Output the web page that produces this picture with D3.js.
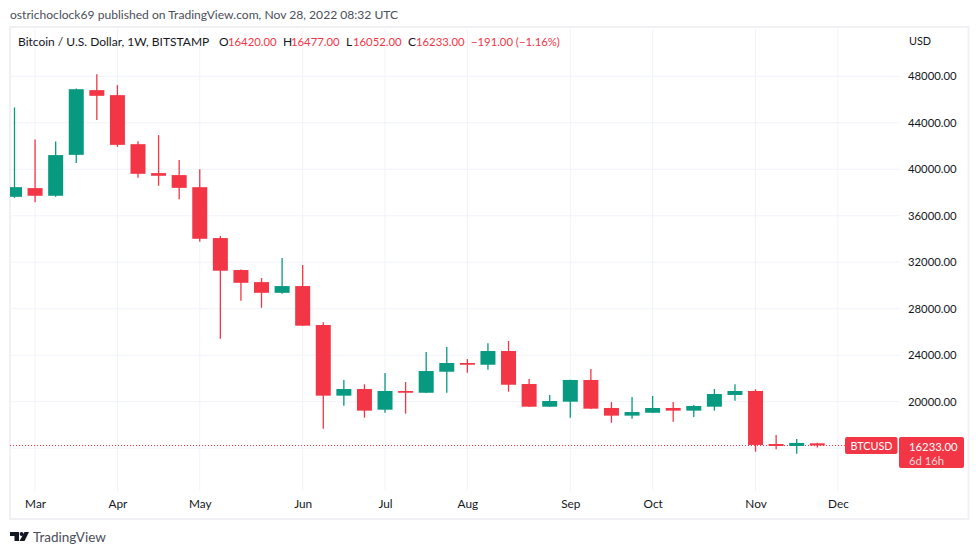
<!DOCTYPE html>
<html>
<head>
<meta charset="utf-8">
<script src="https://cdn.jsdelivr.net/npm/d3@7"></script>
<style>
  html, body { margin: 0; padding: 0; background: #fff; }
  svg { display: block; }
  text { font-family: Lato, sans-serif; fill: #131722; }
</style>
</head>
<body>
<script>
// weekly candles, values
const firstWeek = "2022-02-28"
const opens = [37630,38380,37720,41240,46810,46380,42160,39670,39500,38460,34080,31330,30290,29370,29950,26600,20520,21090,19310,20920,20770,22580,23330,23180,24360,21520,19570,20000,21870,19460,18800,19050,19460,19230,19570,20580,20920,16360,16190,16420]
const highs = [45320,42570,42390,46950,48180,47240,42420,42940,40790,40010,34250,31370,30640,32360,31760,26830,21870,21500,22470,21690,24270,24700,23670,25020,25220,21950,20580,21890,22810,19970,20400,20490,19970,19720,21090,21500,21070,17140,16790,16477]
const lows = [37540,37170,37630,40550,44230,41930,39260,38580,37430,33760,25420,28690,28080,29290,26520,17680,19660,18620,19050,18970,20750,20770,22490,22750,20860,19540,19540,18620,19370,18190,18540,19030,18280,18680,19230,20090,15700,15910,15530,16052]
const closes = [38460,37720,41220,46890,46320,42100,39610,39440,38400,34020,31270,30230,29370,29950,26540,20520,21090,19230,20920,20770,22640,23330,23180,24360,21460,19570,20060,21870,19400,18800,19110,19460,19230,19630,20660,20920,16280,16190,16450,16233]

const priceTicks = [20000,24000,28000,32000,36000,40000,44000,48000]
const gridPrices = [16000,20000,24000,28000,32000,36000,40000,44000,48000]
const monthTicks = ["2022-03-07","2022-04-04","2022-05-02","2022-06-06","2022-07-04","2022-08-01","2022-09-05","2022-10-03","2022-11-07","2022-12-05"]
const lastPrice = 16233

const w = 979
const h = 555
const up = "#089981"
const down = "#f23645"
const grid = "#f0f3fa"
const numSize = "11.3px"
const wordSize = "12px"

const parse = d3.utcParse("%Y-%m-%d")
const weeks = opens.map((d, i) => d3.utcDay.offset(parse(firstWeek), i * 7))

const plotL = 10, plotR = 900, plotT = 29, plotB = 491

const xScale = d3.scaleUtc()
                 .domain([weeks[0], weeks[weeks.length - 1]])
                 .range([14.5, 817.3])
// 48000 sits at y 76.3, 20000 at y 401.7
const yScale = d3.scaleLinear()
                 .domain([20000, 48000])
                 .range([401.7, 76.3])

const svg = d3.select("body").append("svg")
              .attr("width", w)
              .attr("height", h)

svg.append("text")
   .attr("x", 10).attr("y", 19)
   .style("font-size", "12.1px")
   .style("fill", "#4a4e59")
   .text("ostrichoclock69 published on TradingView.com, Nov 28, 2022 08:32 UTC")

// frame
svg.append("rect")
   .attr("x", 10).attr("y", 27)
   .attr("width", 958.5).attr("height", 492)
   .attr("fill", "#fff")
   .attr("stroke", "#eff1f4")
   .attr("stroke-width", 2)

svg.append("defs").append("clipPath").attr("id", "plot")
   .append("rect")
   .attr("x", plotL).attr("y", plotT)
   .attr("width", plotR - plotL).attr("height", plotB - plotT)

const plot = svg.append("g").attr("clip-path", "url(#plot)")

plot.selectAll(".hgrid")
    .data(gridPrices)
    .enter().append("line")
    .attr("class", "hgrid")
    .attr("x1", plotL).attr("x2", plotR)
    .attr("y1", d => yScale(d)).attr("y2", d => yScale(d))
    .attr("stroke", grid)

plot.selectAll(".vgrid")
    .data(monthTicks)
    .enter().append("line")
    .attr("class", "vgrid")
    .attr("y1", plotT).attr("y2", plotB)
    .attr("x1", d => xScale(parse(d))).attr("x2", d => xScale(parse(d)))
    .attr("stroke", grid)

plot.append("line")
    .attr("x1", plotL).attr("x2", 845)
    .attr("y1", yScale(lastPrice)).attr("y2", yScale(lastPrice))
    .attr("stroke", down)
    .attr("stroke-dasharray", "1 2")

const candles = plot.selectAll(".candle")
                    .data(weeks)
                    .enter().append("g")
                    .attr("class", "candle")

candles.append("line")
       .attr("x1", d => xScale(d)).attr("x2", d => xScale(d))
       .attr("y1", (d, i) => yScale(highs[i]))
       .attr("y2", (d, i) => yScale(lows[i]))
       .attr("stroke-width", 1.3)
       .attr("stroke", (d, i) => closes[i] >= opens[i] ? up : down)

candles.append("rect")
       .attr("x", d => xScale(d) - 7.5)
       .attr("width", 15)
       .attr("y", (d, i) => yScale(Math.max(opens[i], closes[i])))
       .attr("height", (d, i) => yScale(Math.min(opens[i], closes[i])) - yScale(Math.max(opens[i], closes[i])))
       .attr("fill", (d, i) => closes[i] >= opens[i] ? up : down)

// axes
const yAxis = d3.axisRight(yScale)
                .tickValues(priceTicks)
                .tickSize(0)
                .tickPadding(8)
                .tickFormat(d3.format(".2f"))
const yG = svg.append("g")
              .attr("transform", "translate(900, 0)")
              .call(yAxis)
yG.select(".domain").remove()
yG.selectAll("text").style("font-size", numSize)

const xAxis = d3.axisBottom(xScale)
                .tickValues(monthTicks.map(parse))
                .tickSize(0)
                .tickPadding(9)
                .tickFormat(d3.utcFormat("%b"))
const xG = svg.append("g")
              .attr("transform", "translate(0, " + plotB + ")")
              .call(xAxis)
xG.select(".domain").remove()
xG.selectAll("text").style("font-size", "11.8px")

svg.append("text")
   .attr("x", 909).attr("y", 45)
   .style("font-size", "10.8px")
   .text("USD")

// legend line
const legend = [
  ["Bitcoin / U.S. Dollar, 1W, BITSTAMP", 18, "#131722", wordSize],
  ["O", 219, "#131722", wordSize],
  ["16420.00", 228, down, numSize],
  ["H", 283, "#131722", wordSize],
  ["16477.00", 291, down, numSize],
  ["L", 346, "#131722", wordSize],
  ["16052.00", 353, down, numSize],
  ["C", 408, "#131722", wordSize],
  ["16233.00", 416, down, numSize],
  ["\u2212191.00 (\u22121.16%)", 471, down, numSize]
]
svg.selectAll(".legend")
   .data(legend)
   .enter().append("text")
   .attr("class", "legend")
   .attr("x", d => d[1]).attr("y", 46)
   .style("font-size", d => d[3])
   .style("fill", d => d[2])
   .text(d => d[0])

// last price labels
svg.append("rect")
   .attr("x", 845).attr("y", 437)
   .attr("width", 52.5).attr("height", 17)
   .attr("rx", 2)
   .attr("fill", down)
svg.append("rect")
   .attr("x", 899).attr("y", 437)
   .attr("width", 65).attr("height", 31)
   .attr("rx", 2)
   .attr("fill", down)
svg.append("text")
   .attr("x", 850.5).attr("y", 450)
   .style("font-size", "10.8px")
   .style("fill", "#fff")
   .text("BTCUSD")
svg.append("text")
   .attr("x", 909).attr("y", 451)
   .style("font-size", numSize)
   .style("fill", "#fff")
   .text(d3.format(".2f")(lastPrice))
svg.append("text")
   .attr("x", 909).attr("y", 465)
   .style("font-size", numSize)
   .style("fill", "#fbd5d9")
   .text("6d 16h")

// logo
const logo = svg.append("g").attr("transform", "translate(10, 532)").attr("fill", "#131722")
logo.append("path").attr("d", "M0 0H9V9H4.5V4H0Z")
logo.append("circle").attr("cx", 11.6).attr("cy", 2).attr("r", 2)
logo.append("path").attr("d", "M14.5 0H19L14.5 9H9.5Z")
svg.append("text")
   .attr("x", 33).attr("y", 542)
   .style("font-size", "13.5px")
   .style("fill", "#4a4e59")
   .text("TradingView")
</script>
</body>
</html>
